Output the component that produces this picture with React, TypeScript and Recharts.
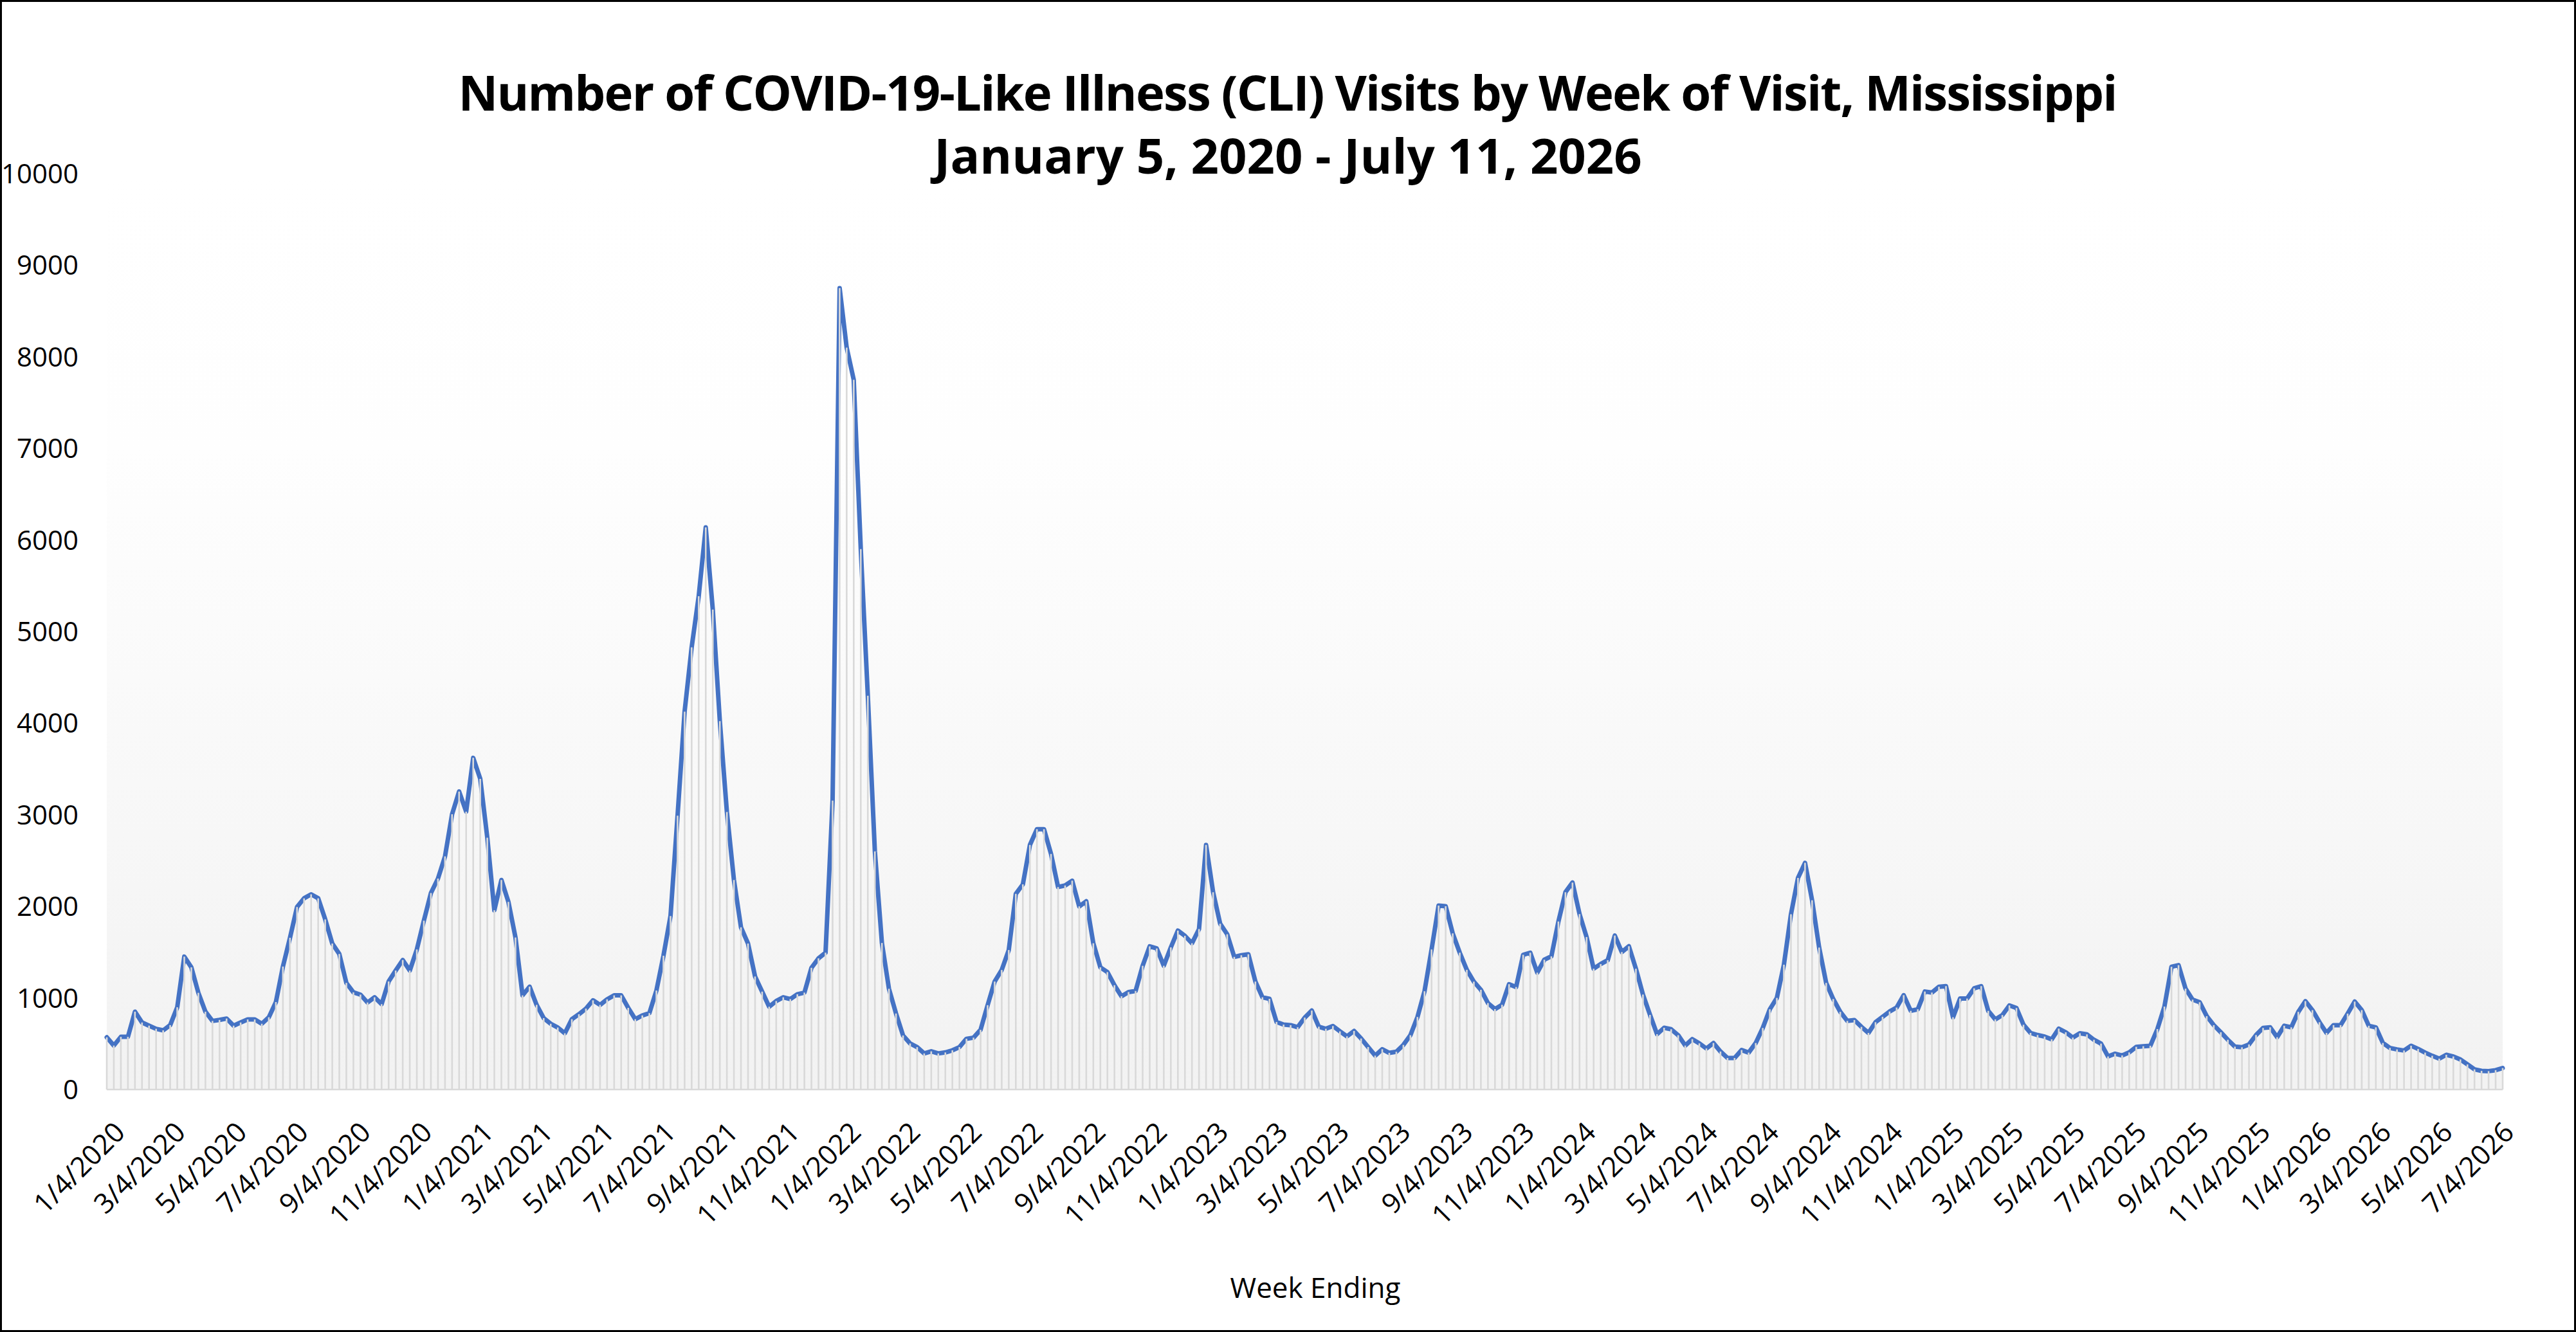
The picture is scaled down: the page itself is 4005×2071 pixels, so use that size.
import { LineChart, Line, XAxis, YAxis, CartesianGrid } from 'recharts';

const W = 4005;
const H = 2071;
const PLOT = { left: 166, right: 3891, top: 270, bottom: 1694 };
const FONT = "'Segoe UI', 'Open Sans', 'Noto Sans', sans-serif";

const FIRST_WEEK = '1/4/2020';

// weekly CLI visits, split by calendar year of the week date
const visits2020 = [
  570, 480, 575, 575, 850, 732, 697, 663, 646, 703,
  898, 1451, 1334, 1056, 850, 749, 760, 775, 697, 732,
  765, 765, 718, 789, 955, 1343, 1657, 1993, 2088, 2131,
  2088, 1858, 1594, 1480, 1164, 1061, 1036, 950, 1007, 932,
  1180, 1299, 1414, 1299, 1529, 1844, 2145, 2303, 2546, 3005,
  3254, 3034,
];
const visits2021 = [
  3621, 3392, 2750, 1957, 2288, 2048, 1660, 1028, 1123, 924,
  780, 718, 677, 614, 768, 822, 883, 974, 924, 985,
  1028, 1028, 892, 768, 809, 834, 1081, 1461, 1895, 2990,
  4126, 4828, 5386, 6138, 5241, 4022, 3031, 2288, 1771, 1594,
  1234, 1069, 904, 966, 1007, 987, 1040, 1058, 1329, 1432,
  1494, 3155,
];
const visits2022 = [
  8750, 8100, 7750, 5900, 4300, 2600, 1600, 1100, 830, 590,
  503, 463, 394, 417, 394, 405, 428, 463, 554, 566,
  652, 921, 1179, 1305, 1523, 2136, 2240, 2670, 2842, 2842,
  2572, 2211, 2228, 2280, 1999, 2056, 1597, 1334, 1282, 1139,
  1018, 1064, 1076, 1351, 1563, 1540, 1351, 1552, 1735, 1678,
  1597, 1752, 2670,
];
const visits2023 = [
  2154, 1810, 1695, 1448, 1466, 1477, 1179, 1007, 990, 738,
  709, 703, 680, 785, 862, 686, 663, 693, 635, 581,
  639, 557, 464, 370, 440, 400, 412, 487, 593, 792,
  1073, 1529, 2009, 2002, 1705, 1494, 1307, 1178, 1089, 944,
  878, 925, 1150, 1119, 1471, 1494, 1276, 1417, 1454, 1834,
  2155, 2260,
];
const visits2024 = [
  1916, 1665, 1319, 1370, 1412, 1681, 1501, 1564, 1319, 1037,
  815, 604, 674, 658, 593, 480, 550, 504, 448, 508,
  415, 344, 344, 431, 403, 508, 672, 876, 1000, 1363,
  1913, 2311, 2475, 2066, 1550, 1164, 988, 848, 749, 759,
  684, 618, 735, 794, 852, 895, 1030, 859, 876, 1070,
  1059, 1122,
];
const visits2025 = [
  1129, 789, 993, 993, 1105, 1129, 859, 766, 813, 918,
  890, 707, 618, 595, 578, 548, 665, 625, 567, 614,
  602, 543, 501, 361, 391, 372, 405, 466, 473, 478,
  660, 906, 1340, 1358, 1101, 981, 953, 801, 703, 625,
  543, 468, 461, 492, 595, 672, 679, 571, 696, 679,
  848, 965,
];
const visits2026 = [
  867, 735, 618, 703, 703, 829, 960, 867, 696, 679,
  508, 454, 438, 426, 478, 443, 403, 368, 337, 379,
  361, 328, 274, 220, 204, 201, 211, 234,
];

const xTickLabels = [
  '1/4/2020', '3/4/2020', '5/4/2020', '7/4/2020', '9/4/2020', '11/4/2020',
  '1/4/2021', '3/4/2021', '5/4/2021', '7/4/2021', '9/4/2021', '11/4/2021',
  '1/4/2022', '3/4/2022', '5/4/2022', '7/4/2022', '9/4/2022', '11/4/2022',
  '1/4/2023', '3/4/2023', '5/4/2023', '7/4/2023', '9/4/2023', '11/4/2023',
  '1/4/2024', '3/4/2024', '5/4/2024', '7/4/2024', '9/4/2024', '11/4/2024',
  '1/4/2025', '3/4/2025', '5/4/2025', '7/4/2025', '9/4/2025', '11/4/2025',
  '1/4/2026', '3/4/2026', '5/4/2026', '7/4/2026',
];
const yTicks = [0, 1000, 2000, 3000, 4000, 5000, 6000, 7000, 8000, 9000, 10000];

const TITLE_LINES = [
  'Number of COVID-19-Like Illness (CLI) Visits by Week of Visit, Mississippi',
  'January 5, 2020 - July 11, 2026',
];
const X_TITLE = 'Week Ending';

const DAY_MS = 86400000;
const toDay = (s: string) => {
  const [m, d, y] = s.split('/').map(Number);
  return Date.UTC(y, m - 1, d) / DAY_MS;
};

const weeklyVisits = [
  ...visits2020, ...visits2021, ...visits2022, ...visits2023,
  ...visits2024, ...visits2025, ...visits2026,
];
const startDay = toDay(FIRST_WEEK);
const data = weeklyVisits.map((v, i) => ({ day: startDay + 7 * i, visits: v }));
const xTicks = xTickLabels.map(toDay);

function XTick({ x, payload }: any) {
  const label = xTickLabels[xTicks.indexOf(payload.value)];
  const ax = x + 31;
  const ay = PLOT.bottom + 69;
  return (
    <text x={ax} y={ay} transform={`rotate(-45 ${ax} ${ay})`} textAnchor="end"
      fontSize={43} fontFamily={FONT} fill="#000">
      {label}
    </text>
  );
}

function YTick({ y, payload }: any) {
  return (
    <text x={PLOT.left - 44} y={y + 15} textAnchor="end" fontSize={42} fontFamily={FONT} fill="#000">
      {payload.value}
    </text>
  );
}

// Excel-style drop line from each point down to the axis
function DropLine({ cx, cy, index }: any) {
  return <line key={`drop-${index}`} x1={cx} x2={cx} y1={cy} y2={PLOT.bottom} stroke="#d9d9d9" strokeWidth={2.6} />;
}

export default function App() {
  return (
    <div style={{ position: 'absolute', left: 0, top: 0, width: W, height: H, background: '#fff' }}>
      <LineChart
        width={W}
        height={H}
        data={data}
        margin={{ top: PLOT.top, right: W - PLOT.right, bottom: 0, left: 0 }}
      >
        <defs>
          <linearGradient id="plotBg" x1="0" y1="0" x2="0" y2="1">
            <stop offset="0%" stopColor="#ffffff" />
            <stop offset="30%" stopColor="#fefefe" />
            <stop offset="55%" stopColor="#fafafa" />
            <stop offset="78%" stopColor="#f6f6f6" />
            <stop offset="100%" stopColor="#f2f2f2" />
          </linearGradient>
        </defs>
        <CartesianGrid horizontal={false} vertical={false} fill="url(#plotBg)" stroke="none" />
        <XAxis
          dataKey="day"
          type="number"
          domain={[data[0].day, data[data.length - 1].day]}
          ticks={xTicks}
          interval={0}
          tick={<XTick />}
          tickLine={false}
          axisLine={{ stroke: '#d9d9d9', strokeWidth: 2.5 }}
          height={H - PLOT.bottom}
        />
        <YAxis
          type="number"
          domain={[0, 10000]}
          ticks={yTicks}
          interval={0}
          tick={<YTick />}
          tickLine={false}
          axisLine={false}
          width={PLOT.left}
        />
        <Line dataKey="visits" stroke="none" dot={DropLine} activeDot={false} isAnimationActive={false} />
        <Line
          dataKey="visits"
          type="linear"
          stroke="#4472c4"
          strokeWidth={7}
          strokeLinejoin="round"
          strokeLinecap="round"
          dot={false}
          activeDot={false}
          isAnimationActive={false}
        />
      </LineChart>
      <svg width={W} height={H} style={{ position: 'absolute', left: 0, top: 0, pointerEvents: 'none' }}>
        <text x={W / 2} y={172} textAnchor="middle" fontSize={76} fontWeight={700} fontFamily={FONT}
          fill="#000" textLength={2580} lengthAdjust="spacing">
          {TITLE_LINES[0]}
        </text>
        <text x={W / 2} y={270} textAnchor="middle" fontSize={76} fontWeight={700} fontFamily={FONT} fill="#000">
          {TITLE_LINES[1]}
        </text>
        <text x={2045} y={2018} textAnchor="middle" fontSize={44} fontFamily={FONT} fill="#000">
          {X_TITLE}
        </text>
        <rect x={1.5} y={1.5} width={W - 3} height={H - 3} fill="none" stroke="#000" strokeWidth={3} />
      </svg>
    </div>
  );
}
